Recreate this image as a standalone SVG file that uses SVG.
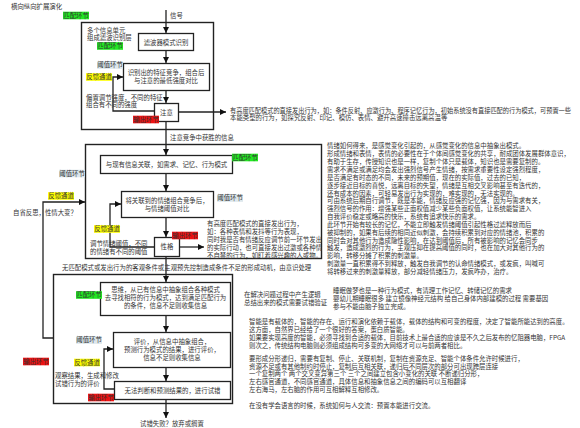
<svg xmlns="http://www.w3.org/2000/svg" width="580" height="428" viewBox="0 0 580 428">
<defs>
<marker id="ah" markerUnits="userSpaceOnUse" markerWidth="7" markerHeight="7" refX="6" refY="3" orient="auto"><path d="M0,0 L6,3 L0,6 z" fill="#111"/></marker>
<style>
.t{font-family:"Noto Sans CJK SC","Liberation Sans",sans-serif;font-size:6.4px;fill:#333}
.m{text-anchor:middle}
.box{fill:#fff;stroke:#222;stroke-width:1.3}
.frame{fill:none;stroke:#222;stroke-width:1.4}
.c{fill:none;stroke:#222;stroke-width:1.3;marker-end:url(#ah)}
.g{fill:#22e822}
.b{fill:#dce7ec}
.y{fill:#ffff00}
.r{fill:#ee1111}
</style>
</defs>
<rect width="580" height="428" fill="#fff"/>
<text class="t" x="11" y="9">横向纵向扩展演化</text>

<rect id="frame1" class="frame" x="81.5" y="22.5" width="132" height="107"/>
<rect id="frame2" class="frame" x="85.5" y="144.5" width="236" height="114"/>
<rect id="frame3" class="frame" x="53.5" y="274.5" width="179" height="129"/>

<g id="connectors">
<path class="c" d="M166,10 V33"/>
<path class="c" d="M166,51 V63"/>
<path class="c" d="M166,91 V103"/>
<path class="c" d="M154,111 H113 V77 H123"/>
<path class="c" d="M178,112 H226"/>
<path class="c" d="M166,122 V155"/>
<path class="c" d="M166,174 V191"/>
<path class="c" d="M166,218 V237"/>
<path class="c" d="M154,247 H110 V204 H121"/>
<path class="c" d="M179,247 H204"/>
<path class="c" d="M166,257 V282"/>
<path class="c" d="M53,338 H43 V202 H85"/>
<path class="c" d="M166,315.5 V332"/>
<path class="c" d="M166,368 V381"/>
<path class="c" d="M114,389 H104 V349 H113"/>
<path class="c" d="M166,400 V418"/>
</g>

<g id="filter"><rect class="box" x="138.5" y="33.5" width="55" height="17"/><text class="t m" x="166" y="44.5">滤波器模式识别</text></g>
<g id="compete"><rect class="box" x="123.5" y="63.5" width="86" height="27"/><text class="t m" x="166" y="75">识别出的特征竞争，组合后</text><text class="t m" x="166" y="83.2">与注意的最低强度对比</text></g>
<g id="attention"><rect class="box" x="154.5" y="103.5" width="24" height="18"/><text class="t m" x="166.5" y="115">注意</text></g>
<g id="relate"><rect class="box" x="100.5" y="155.5" width="132" height="18"/><text class="t m" x="166.5" y="166.8">与现有信息关联，如需求、记忆、行为模式</text></g>
<g id="emocompete"><rect class="box" x="121.5" y="191.5" width="92" height="26"/><text class="t m" x="167" y="202.6">将关联到的情绪组合竞争后，</text><text class="t m" x="167" y="210.8">与情绪阈值对比</text></g>
<g id="character"><rect class="box" x="154.5" y="237.5" width="25" height="19"/><text class="t m" x="167" y="249.4">性格</text></g>
<g id="thinking"><rect class="box" x="100.5" y="282.5" width="130" height="33"/><text class="t m" x="165.5" y="291.5">思维，从已有信息中抽象组合各种模式</text><text class="t m" x="165.5" y="299.8">去寻找相符的行为模式，达到满足匹配行为</text><text class="t m" x="165.5" y="308.1">的条件，信息不足则收集信息</text></g>
<g id="evaluate"><rect class="box" x="113.5" y="332.5" width="117" height="35"/><text class="t m" x="172" y="343.5">评价，从信息中抽象组合，</text><text class="t m" x="172" y="351.6">预测行为模式的结果，进行评价，</text><text class="t m" x="172" y="359.7">信息不足则收集信息</text></g>
<g id="trial"><rect class="box" x="114.5" y="381.5" width="116" height="18"/><text class="t m" x="172.5" y="392.6">无法判断和预测结果的，进行试错</text></g>

<g id="lb1"><rect class="g" x="63" y="11.7" width="26" height="7.6"/><text class="t" x="63.3" y="17.9">匹配环节</text></g>
<g id="lb2"><rect class="g" x="97" y="42.2" width="26" height="7.6"/><text class="t" x="97.3" y="48.4">匹配环节</text></g>
<g id="lb3"><rect class="b" x="97" y="61.2" width="26" height="7.6"/><text class="t" x="97.3" y="67.4">阈值环节</text></g>
<g id="lb4"><rect class="y" x="86" y="73.2" width="26" height="7.6"/><text class="t" x="86.3" y="79.4">反馈通道</text></g>
<g id="lb5"><rect class="r" x="133" y="115.7" width="26" height="7.6"/><text class="t" x="133.3" y="121.9">输出环节</text></g>
<g id="lb6"><rect class="g" x="232" y="153.7" width="26" height="7.6"/><text class="t" x="232.3" y="159.9">匹配环节</text></g>
<g id="lb7"><rect class="b" x="59" y="169.7" width="26" height="7.6"/><text class="t" x="59.3" y="175.9">阈值环节</text></g>
<g id="lb8"><rect class="b" x="217" y="194.2" width="26" height="7.6"/><text class="t" x="217.3" y="200.4">阈值环节</text></g>
<g id="lb9"><rect class="y" x="94" y="225.2" width="26" height="7.6"/><text class="t" x="94.3" y="231.4">反馈通道</text></g>
<g id="lb10"><rect class="r" x="172" y="231.7" width="26" height="7.6"/><text class="t" x="172.3" y="237.9">输出环节</text></g>
<g id="lb11"><rect class="y" x="48" y="192.2" width="26" height="7.6"/><text class="t" x="48.3" y="198.4">反馈通道</text></g>
<g id="lb12"><rect class="g" x="76" y="291.2" width="26" height="7.6"/><text class="t" x="76.3" y="297.4">匹配环节</text></g>
<g id="lb13"><rect class="b" x="76" y="336.2" width="26" height="7.6"/><text class="t" x="76.3" y="342.4">阈值环节</text></g>
<g id="lb14"><rect class="y" x="74" y="358.7" width="26" height="7.6"/><text class="t" x="74.3" y="364.9">反馈通道</text></g>
<g id="lb15"><rect class="r" x="23" y="357.7" width="26" height="7.6"/><text class="t" x="23.3" y="363.9">输出环节</text></g>
<g id="lb16"><rect class="r" x="88" y="393.7" width="26" height="7.6"/><text class="t" x="88.3" y="399.9">输出环节</text></g>

<g id="notes">
<text class="t" x="170" y="17.5">信号</text>
<text class="t" x="87" y="32.6">多个信息单元</text>
<text class="t" x="87" y="40.4">组成滤波识别层</text>
<text class="t" x="86" y="99.5">偏置调节强度，不同的特征</text>
<text class="t" x="86" y="107.3">组合有不同的强度</text>
<text class="t" x="230" y="112.5" textLength="341" lengthAdjust="spacingAndGlyphs">有高度匹配模式的直接发出行为，如：条件反射、应激行为、程序记忆行为，初始系统没有直接匹配的行为模式，可预置一些</text>
<text class="t" x="230" y="120.3">本能类型的行为，如探究反射、印记、模仿、表情、避开高速撞击远离高温等</text>
<text class="t" x="170" y="139.5">注意竞争中获胜的信息</text>
<text class="t" x="13" y="214.5">自省反思，性情大变？</text>
<text class="t" x="90" y="245.5">调节情绪阈值，不同</text>
<text class="t" x="90" y="253.5">的情绪有不同的阈值</text>
<text class="t" x="207" y="225.9">有高度匹配模式的直接发出行为，</text>
<text class="t" x="207" y="233.9">如：各种表情和发抖等行为表现，</text>
<text class="t" x="207" y="241.9">同时我是否有情绪反应调节前一环节发出</text>
<text class="t" x="207" y="249.9">的实际行动，也可直接发出过激或各种情</text>
<text class="t" x="207" y="257.9">不自禁的行为，如盯着感兴趣的人或物。</text>
<text class="t" x="62" y="269.5">无匹配模式或发出行为的客观条件或主观预先控制造成条件不足的形成动机，由意识处理</text>
<text class="t" x="55" y="377.9">观察结果，生成和修改</text>
<text class="t" x="55" y="385.7">试错行为的评价</text>
<text class="t" x="140" y="426.4">试错失败？放弃或搁置</text>
</g>

<g id="emotion">
<text class="t" x="327" y="148.4">情绪如何得来，是感觉变化引起的，从感觉变化的信息中抽象出模式。</text>
<text class="t" x="327" y="156.25">形成情绪和表情，表情的必要性在于个体间感觉变化的共享，耐成团体发展群体意识，</text>
<text class="t" x="327" y="164.1">有助于生存，传授知识也是一样，复制个体只是载体，知识也是需要复制的。</text>
<text class="t" x="327" y="171.95">需求不满足或满足均会发出强烈信号产生情绪，按需求重要性设定强烈程度，</text>
<text class="t" x="327" y="179.8">是否满足有时态的不同，未来的预期值，现在的实际值，过去的已知，</text>
<text class="t" x="327" y="187.65">逐步接近目标的喜悦，远离目标的失望，情绪是互相交叉影响甚至有迭代的，</text>
<text class="t" x="327" y="195.5">还有成本的因素，可轻易发出行为实现的，难实现的，无法实现的。</text>
<text class="t" x="327" y="203.35">可由系统后期自行调节，既是本能，情绪反应强的记忆强，因为与需求有关，</text>
<text class="t" x="327" y="211.2">强烈信号的作用：增强某些正面权值减少某些负面权值，让系统能智进入</text>
<text class="t" x="327" y="219.05">自我评价稳定或略高的快乐，系统有追求快乐的需求。</text>
<text class="t" x="327" y="226.9">此环节开始有较长的记忆，不能立即触发情绪阈值引起性格过滤释放而后</text>
<text class="t" x="327" y="234.75">被抑制的，如果有后续的相同近似刺激，会持续积累到对应的情绪池，积累的</text>
<text class="t" x="327" y="242.6">同时会对其他行为造成隐性影响，在达到阈值后，所有被影响的记忆会同步</text>
<text class="t" x="327" y="250.45">触发，造成激烈的行为，主观压抑在提高阈值的同时，也在加大对其他行为的</text>
<text class="t" x="327" y="258.3">影响，转移分摊了积累的刺激量。</text>
<text class="t" x="327" y="266.15">刺激量一直积累得不到释放，触发自我调节的认命情绪模式，或发疯，叫喊可</text>
<text class="t" x="327" y="274">将转移过来的刺激量释放，部分减轻情绪压力，发疯咋办，治疗。</text>
</g>

<g id="logic">
<text class="t" x="244" y="296.9">在解决问题过程中产生逻辑</text>
<text class="t" x="244" y="304.65">总结出来的模式需要试错验证</text>
</g>
<g id="sleep">
<text class="t" x="333" y="293.4">睡眠做梦也是一种行为模式，有清理工作记忆、转储记忆的需求</text>
<text class="t" x="333" y="301.15">婴幼儿期睡眠很多 建立镜像神经元结构 给自己身体内部建模的过程 需要基因</text>
<text class="t" x="333" y="308.9">参与不能由脑子独立完成。</text>
</g>
<g id="carrier">
<text class="t" x="249" y="324.4">智能是有载体的，智能的存在、运行和演化依赖于载体，载体的结构和可变的程度，决定了智能所能达到的高度。</text>
<text class="t" x="249" y="332.15">这方面，自然界已经给了一个很好的答案，蛋白质智能。</text>
<text class="t" x="249" y="339.9">如果要实现高度的智能，必须寻找到合适的载体，目前技术上最合适的应该是不久之后发布的忆阻器电脑，FPGA</text>
<text class="t" x="249" y="347.65">则次之，传统结构电脑则必须组成结构可多变的大网络才可以与前两者相比。</text>
</g>
<g id="fractal">
<text class="t" x="249" y="360.9">要形成分形递归，需要有复制、停止、关联机制，复制在资源充足、智能个体条件允许时候进行，</text>
<text class="t" x="249" y="368.65">资源不足或有其他制约时停止，复制后互相关联，递归后不同层次的部分可出现跨层连接</text>
<text class="t" x="249" y="376.4">一个复制两个 两个交叉变异第三个 三个之间建立包含小变化的关联 不断递归分形，</text>
<text class="t" x="249" y="384.15">左右感官通道，不同感官通道，具体信息和抽象信息之间的编码可以互相翻译</text>
<text class="t" x="249" y="391.9">左右海马，左右脑的作用可互相解释互相修改。</text>
</g>
<text class="t" x="249" y="408.2">在没有学会语言的时候，系统如何与人交流：预置本能进行交流。</text>
</svg>
